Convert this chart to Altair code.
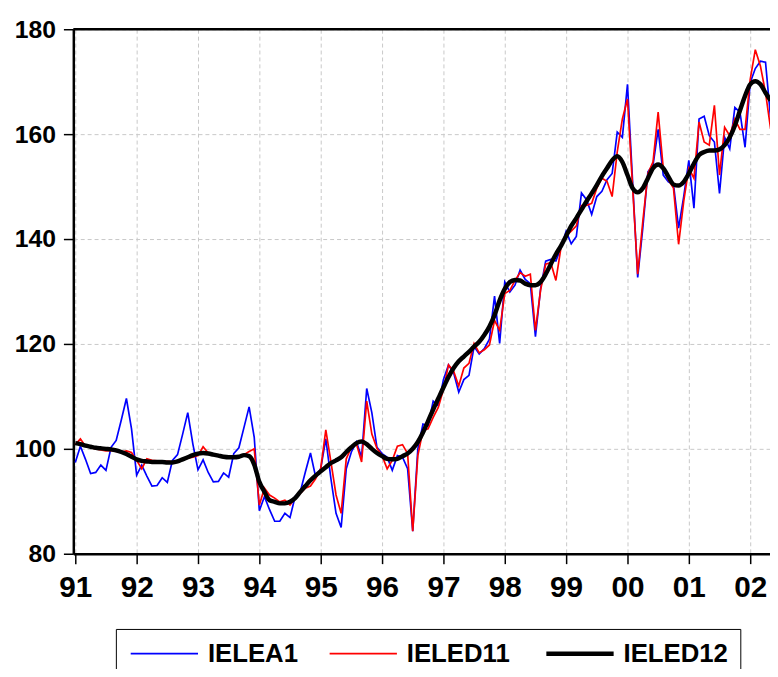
import altair as alt
import pandas as pd

# ---------------- data (monthly, Jan 1991 .. May 2002) ----------------
years = list(range(1991, 2003))
series_names = ["IELEA1", "IELED11", "IELED12"]

ielea1 = [
    97.4, 100.5, 98.0, 95.3, 95.5, 96.9, 95.9, 100.3, 101.6, 105.5, 109.6, 103.8,   # 1991
    95.0, 96.9, 94.8, 92.9, 93.0, 94.5, 93.6, 97.8, 98.9, 102.8, 106.9, 100.9,     # 1992
    96.0, 97.9, 95.5, 93.7, 93.8, 95.4, 94.6, 99.1, 100.2, 104.1, 108.0, 102.2,    # 1993
    88.2, 90.9, 88.4, 86.2, 86.2, 87.7, 86.9, 90.9, 91.8, 95.6, 99.2, 94.7,        # 1994
    96.2, 101.9, 94.3, 87.7, 85.0, 96.2, 99.4, 101.3, 98.4, 111.5, 106.9, 100.3,   # 1995
    99.1, 98.4, 95.9, 98.7, 98.4, 96.2, 84.3, 100.0, 104.7, 104.4, 109.1, 108.2,   # 1996
    113.2, 116.0, 114.5, 110.8, 113.2, 114.0, 119.5, 118.1, 119.1, 120.9, 129.1, 120.1,  # 1997
    131.8, 129.9, 131.2, 134.1, 132.3, 131.5, 121.4, 130.5, 135.8, 136.1, 135.8, 138.4,  # 1998
    141.5, 139.1, 140.5, 148.8, 147.5, 144.7, 148.1, 149.1, 151.3, 152.5, 160.4, 159.4,  # 1999
    169.5, 151.0, 132.7, 142.1, 152.8, 154.1, 160.9, 152.2, 150.9, 150.4, 142.1, 148.1,  # 2000
    155.0, 145.9, 162.9, 163.4, 159.7, 158.5, 148.7, 159.4, 157.2, 165.1, 164.2, 157.5,  # 2001
    169.8, 172.5, 173.9, 173.7, 163.0,                                                   # 2002
]

ieled11 = [
    100.8, 101.9, 100.5, 100.2, 100.0, 99.8, 99.6, 99.7, 99.5, 99.4, 99.6, 99.3,   # 1991
    97.8, 96.2, 98.1, 97.8, 97.7, 97.6, 97.6, 97.5, 97.6, 97.9, 98.2, 98.4,        # 1992
    98.7, 100.4, 99.2, 98.9, 98.7, 98.3, 98.3, 98.3, 98.4, 98.9, 99.5, 100.0,      # 1993
    89.3, 92.5, 91.2, 90.6, 89.9, 90.2, 89.3, 90.6, 91.5, 92.5, 92.9, 94.3,        # 1994
    96.2, 103.6, 97.5, 91.2, 87.7, 98.1, 100.3, 100.9, 97.5, 109.1, 102.8, 100.1,  # 1995
    98.7, 96.2, 97.8, 100.5, 100.8, 99.1, 84.3, 98.7, 103.5, 103.8, 106.0, 107.9,  # 1996
    111.3, 116.0, 114.8, 112.0, 115.4, 116.3, 120.1, 118.3, 118.9, 119.8, 124.5, 122.6,  # 1997
    129.6, 130.2, 132.1, 133.6, 132.9, 133.3, 122.6, 130.2, 135.2, 135.5, 132.1, 138.4,  # 1998
    140.6, 141.5, 142.5, 146.4, 146.4, 146.8, 149.7, 151.6, 151.0, 148.1, 156.6, 162.9,  # 1999
    166.7, 150.0, 133.3, 143.4, 152.5, 154.7, 164.2, 153.5, 151.3, 149.7, 139.0, 147.2,  # 2000
    153.5, 151.6, 162.3, 158.5, 157.9, 165.5, 152.2, 161.3, 159.7, 162.9, 160.9, 160.9,  # 2001
    170.4, 176.1, 173.0, 167.9, 161.0,                                                   # 2002
]

ieled12 = [
    101.1, 100.9, 100.6, 100.4, 100.2, 100.1, 100.0, 99.9, 99.7, 99.4, 99.0, 98.5,  # 1991
    98.0, 97.7, 97.6, 97.5, 97.5, 97.5, 97.4, 97.4, 97.6, 98.0, 98.4, 98.8,         # 1992
    99.1, 99.2, 99.1, 98.9, 98.7, 98.5, 98.4, 98.4, 98.5, 98.8, 98.6, 97.0,         # 1993
    93.7, 91.8, 90.2, 89.9, 89.6, 89.6, 89.9, 90.6, 91.8, 92.9, 94.0, 94.9,         # 1994
    95.7, 96.5, 97.3, 97.8, 98.4, 99.4, 100.3, 101.1, 101.4, 100.9, 100.0, 99.2,    # 1995
    98.6, 98.1, 98.0, 98.1, 98.6, 99.1, 100.0, 101.3, 103.1, 105.3, 107.5, 109.6,   # 1996
    111.7, 113.7, 115.4, 116.7, 117.6, 118.5, 119.5, 120.4, 121.7, 123.3, 125.5, 128.3,  # 1997
    130.5, 131.8, 132.2, 132.1, 131.5, 131.2, 131.2, 131.8, 133.3, 135.2, 137.1, 138.7,  # 1998
    140.6, 142.5, 144.0, 145.6, 147.2, 148.7, 150.3, 152.0, 153.5, 155.0, 155.8, 154.7,  # 1999
    152.2, 149.7, 148.9, 149.7, 151.6, 153.5, 154.2, 153.5, 151.9, 150.4, 150.2, 150.9,  # 2000
    152.5, 154.4, 156.0, 156.6, 156.9, 156.9, 157.1, 157.9, 159.4, 161.6, 164.5, 167.3,  # 2001
    169.5, 170.1, 169.5, 167.9, 166.4,                                                   # 2002
]

y_ticks = [80, 100, 120, 140, 160, 180]

# ---------------- table ----------------
n = len(ielea1)
t = [1991 + i / 12 for i in range(n)]
rows = []
for name, vals in zip(series_names, [ielea1, ieled11, ieled12]):
    for ti, v in zip(t, vals):
        rows.append({"t": ti, "value": v, "series": name})
df = pd.DataFrame(rows)

FONT = "Liberation Sans, Arial, Helvetica, sans-serif"

x_scale = alt.Scale(domain=[1990.968, 2002.323], nice=False, zero=False)
y_scale = alt.Scale(domain=[80, 180], nice=False, zero=False)

color_scale = alt.Scale(type="ordinal", domain=series_names, range=["#0000FF", "#FF0000", "#000000"])
width_scale = alt.Scale(type="ordinal", domain=series_names, range=[1.7, 1.7, 4.5])

# long horizontal stroke symbol; unit size kept small so the legend row stays short
legend = alt.Legend(
    orient="none", legendX=43, legendY=606, direction="horizontal", title=None,
    symbolType="M-1,0L5.8,0", symbolSize=400, labelFont=FONT, labelFontSize=26,
    labelFontWeight="bold", labelColor="black", labelOffset=55, columnPadding=27,
    padding=12, strokeColor="black", labelLimit=300,
)

x_axis = alt.Axis(
    values=years, labelExpr="substring(toString(datum.value), 2)", title=None,
    labelFont=FONT, labelFontSize=30, labelFontWeight="bold", labelColor="black",
    labelFlush=False, labelPadding=9, tickSize=10, tickWidth=1.5, tickColor="black",
    domainColor="black", domainWidth=2.5, grid=True, gridColor="#c8c8c8",
    gridDash=[4, 3], gridWidth=1, labelOverlap=False,
)
y_axis = alt.Axis(
    values=y_ticks, format="d", title=None,
    labelFont=FONT, labelFontSize=25, labelFontWeight="bold", labelColor="black",
    labelPadding=8, tickSize=10, tickWidth=1.5, tickColor="black",
    domainColor="black", domainWidth=2.5, grid=True, gridColor="#c8c8c8",
    gridDash=[4, 3], gridWidth=1,
)

base = alt.Chart(df)

thin = base.transform_filter(alt.datum.series != "IELED12").mark_line(clip=True).encode(
    x=alt.X("t:Q", scale=x_scale, axis=x_axis),
    y=alt.Y("value:Q", scale=y_scale, axis=y_axis),
    color=alt.Color("series:N", scale=color_scale, legend=legend),
    strokeWidth=alt.StrokeWidth("series:N", scale=width_scale, legend=legend),
    detail="series:N",
)

thick = base.transform_filter(alt.datum.series == "IELED12").mark_line(
    clip=True, interpolate="monotone"
).encode(
    x=alt.X("t:Q", scale=x_scale, axis=x_axis),
    y=alt.Y("value:Q", scale=y_scale, axis=y_axis),
    color=alt.Color("series:N", scale=color_scale, legend=legend),
    strokeWidth=alt.StrokeWidth("series:N", scale=width_scale, legend=legend),
)

top_border = alt.Chart(pd.DataFrame({"v": [180]})).mark_rule(
    color="black", strokeWidth=2.5
).encode(y=alt.Y("v:Q", scale=y_scale, axis=y_axis))

chart = alt.layer(thin, thick, top_border).properties(
    width=704, height=530,
    autosize=alt.AutoSizeParams(type="none"),
    padding={"left": 66, "top": 18, "right": 0, "bottom": 113},
    background="white",
).configure_view(stroke=None)

chart.save("out.html", embed_options={"renderer": "svg", "actions": False})
